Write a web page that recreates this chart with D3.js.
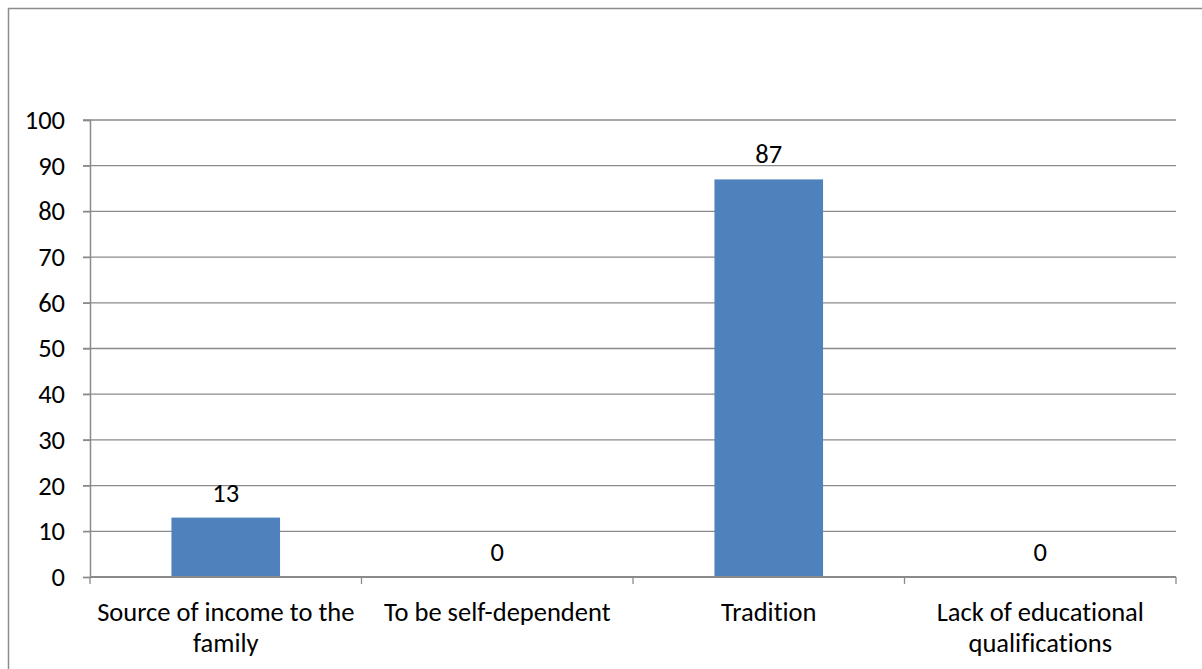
<!DOCTYPE html>
<html><head><meta charset="utf-8">
<script src="https://cdn.jsdelivr.net/npm/d3@7"></script>
<style>body{margin:0;background:#fff;} text{font-family:Carlito,Calibri,"Open Sans",sans-serif;fill:#000;font-variant-ligatures:none;font-feature-settings:"liga" 0;}</style>
</head><body>
<svg id="c" width="1202" height="669"></svg>
<script>
const categories = [["Source of income to the","family"],["To be self-dependent"],["Tradition"],["Lack of educational","qualifications"]];
const values = [13, 0, 87, 0];
const yTicks = [0,10,20,30,40,50,60,70,80,90,100];

const svg = d3.select("#c");
const FS = "26.5px";
const m = {l:90, r:1176, t:120, b:577};

svg.append("rect").attr("x",8.5).attr("y",8.5).attr("width",1300).attr("height",800)
  .attr("fill","none").attr("stroke","#8c8c8c").attr("stroke-width",1.5);

const x = d3.scaleBand().domain(d3.range(categories.length)).range([m.l, m.r]).paddingInner(0).paddingOuter(0);
const y = d3.scaleLinear().domain([0,100]).range([m.b, m.t]);

// gridlines
svg.append("g").selectAll("line").data(yTicks.filter(d=>d>0)).join("line")
  .attr("x1",m.l-7).attr("x2",m.r).attr("y1",d=>y(d)).attr("y2",d=>y(d))
  .attr("stroke","#8a8a8a").attr("stroke-width",1.3);

// y axis
const ya = svg.append("g").attr("transform",`translate(${m.l},0)`)
  .call(d3.axisLeft(y).tickValues(yTicks).tickSize(7).tickPadding(18));
ya.attr("font-family",null).attr("font-size",null);
ya.select(".domain").attr("stroke","#8a8a8a").attr("stroke-width",1.5);
ya.selectAll(".tick line").attr("stroke","#8a8a8a").attr("stroke-width",1.3);
ya.selectAll("text").style("font-size",FS).attr("fill","#000");

// bars
const bw = x.bandwidth()*0.4;
svg.append("g").selectAll("rect").data(values).join("rect")
  .attr("x",(d,i)=>x(i)+x.bandwidth()/2-bw/2).attr("width",bw)
  .attr("y",d=>y(d)).attr("height",d=>y(0)-y(d)).attr("fill","#4f81bd");

// x axis
svg.append("line").attr("x1",m.l).attr("x2",m.r).attr("y1",y(0)).attr("y2",y(0))
  .attr("stroke","#8a8a8a").attr("stroke-width",2);
const xt = d3.range(categories.length+1).map(i=> i<categories.length ? x(i) : m.r);
svg.append("g").selectAll("line").data(xt).join("line")
  .attr("x1",d=>d).attr("x2",d=>d).attr("y1",y(0)).attr("y2",y(0)+7)
  .attr("stroke","#8a8a8a").attr("stroke-width",1.3);

// category labels
const cl = svg.append("g").selectAll("text").data(categories).join("text")
  .attr("text-anchor","middle").style("font-size",FS)
  .attr("x",(d,i)=>x(i)+x.bandwidth()/2).attr("y",621);
cl.selectAll("tspan").data(d=>d).join("tspan")
  .attr("x",function(){return d3.select(this.parentNode).attr("x");})
  .attr("dy",(d,i)=>i===0?0:31).text(d=>d);

// value labels
svg.append("g").selectAll("text").data(values).join("text")
  .attr("text-anchor","middle").style("font-size",FS)
  .attr("x",(d,i)=>x(i)+x.bandwidth()/2).attr("y",d=>y(d)-16)
  .text(d=>d);
</script>
</body></html>
